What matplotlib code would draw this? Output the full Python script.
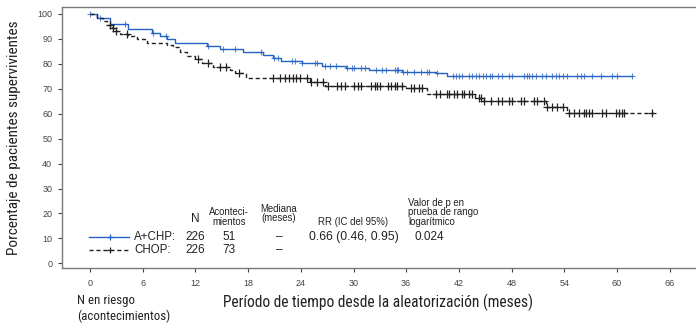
import numpy as np
import matplotlib.pyplot as plt
from matplotlib import font_manager

# ---------------------------------------------------------------
# Datos
# ---------------------------------------------------------------
# A+CHP: tiempos de evento (meses) y supervivencia (%)
t_achp = [0, 0.8, 2.3, 4.3, 7.0, 8.0, 8.75, 9.7, 13.3, 14.8, 17.4, 19.7, 20.8,
          21.8, 24.1, 26.4, 29.2, 31.8, 35.5, 39.4, 40.6, 61.7]
s_achp = [100, 98.5, 95.9, 94.0, 92.4, 91.0, 89.8, 88.4, 87.1, 85.8, 84.6, 83.5,
          82.5, 81.1, 80.5, 79.0, 78.3, 77.5, 76.8, 76.2, 75.3, 75.3]
c_achp = [0, 1.1, 4.0, 7.2, 8.7, 13.4, 15.1, 16.5, 19.5, 21.0, 21.4, 23.0, 23.3,
          24.1, 25.6, 25.9, 26.7, 27.3, 28.0, 29.3, 29.8, 30.1, 30.9, 31.3, 32.6,
          33.2, 33.7, 34.7, 34.9, 35.1, 35.6, 36.1, 36.9, 37.7, 38.4, 38.6, 39.5,
          41.3, 41.7, 42.0, 42.4, 43.2, 43.5, 44.0, 44.3, 44.7, 45.1, 45.5, 45.8,
          46.5, 46.9, 47.7, 48.1, 49.4, 49.7, 50.0, 50.3, 50.8, 51.5, 51.9, 52.6,
          53.1, 53.4, 53.8, 54.3, 55.5, 55.9, 56.3, 57.2, 58.2, 59.4, 60.0, 61.7]

# CHOP
t_chop = [0, 0.8, 1.5, 1.9, 2.5, 2.8, 3.4, 4.3, 5.3, 6.5, 8.75, 9.4, 10.2, 11.0,
          11.9, 12.8, 14.0, 15.9, 16.5, 17.8, 25.0, 26.7, 36.0, 38.4, 43.8, 44.7,
          51.9, 54.3, 64.2]
s_chop = [100, 98.5, 97.2, 95.5, 94.2, 93.0, 92.0, 91.2, 89.9, 88.5, 87.7, 86.8,
          84.8, 83.2, 81.9, 80.5, 78.8, 77.5, 76.4, 74.2, 72.8, 71.1, 70.2, 67.9,
          66.4, 65.2, 62.8, 60.2, 60.2]
c_chop = [2.3, 2.6, 3.0, 4.2, 12.3, 13.4, 14.8, 15.5, 17.0, 20.8, 21.6, 22.2, 22.6,
          23.1, 23.5, 23.9, 24.7, 25.2, 25.8, 26.5, 27.1, 28.1, 28.6, 29.0, 30.1,
          30.5, 30.9, 32.0, 32.4, 32.7, 33.0, 33.9, 34.3, 34.7, 35.0, 35.5, 36.6,
          36.9, 37.5, 37.8, 39.4, 39.8, 40.6, 40.9, 41.5, 41.8, 42.3, 42.6, 43.2,
          43.5, 44.3, 44.5, 44.9, 45.7, 46.4, 46.9, 47.7, 48.1, 49.1, 49.4, 50.6,
          50.9, 51.7, 52.0, 52.6, 53.2, 53.8, 54.5, 55.1, 55.7, 56.3, 56.5, 56.8,
          57.2, 58.3, 58.8, 59.9, 60.2, 60.6, 60.8, 64.0]

x_ticks = [0, 6, 12, 18, 24, 30, 36, 42, 48, 54, 60, 66]
y_ticks = [0, 10, 20, 30, 40, 50, 60, 70, 80, 90, 100]

# tabla
grupos = ['A+CHP:', 'CHOP:']
n_total = ['226', '226']
eventos = ['51', '73']
mediana = ['–', '–']
rr_txt = '0.66 (0.46, 0.95)'
p_txt = '0.024'

# ---------------------------------------------------------------
# Fuentes
# ---------------------------------------------------------------
nombres = {f.name for f in font_manager.fontManager.ttflist}
cond = dict(family='DejaVu Sans', fontstretch='condensed')
for cand in ['Roboto Condensed', 'Liberation Sans Narrow', 'Open Sans Condensed']:
    if cand in nombres:
        cond = dict(family=cand)
        break
plt.rcParams['font.family'] = ['Liberation Sans', 'DejaVu Sans']

azul = '#2462c4'
negro = '#222222'
gris = '#7a7a7a'
txt = '#222222'

fig = plt.figure(figsize=(6.96, 3.25), dpi=100)
ax = fig.add_axes([0.089, 0.175, 0.911, 0.803])


def valor_en(t, ts, ss):
    i = np.searchsorted(ts, t, side='right') - 1
    return np.asarray(ss)[np.clip(i, 0, len(ss) - 1)]


ax.step(t_achp, s_achp, where='post', color=azul, lw=1.0)
ax.plot(c_achp, valor_en(c_achp, t_achp, s_achp), '+', color=azul, ms=5,
        mew=0.8, alpha=0.75)
ax.step(t_chop, s_chop, where='post', color=negro, lw=1.0, ls=(0, (3, 2)))
ax.plot(c_chop, valor_en(c_chop, t_chop, s_chop), '+', color=negro, ms=5.5,
        mew=0.9)

ax.set_xlim(-3.2, 69)
ax.set_ylim(-1.9, 102.7)
ax.set_xticks(x_ticks)
ax.set_yticks(y_ticks)
ax.tick_params(labelsize=6.5, colors='#444444', length=3, width=0.8, pad=4)
ax.tick_params(axis='x', pad=5)
for lado in ['top', 'left', 'bottom']:
    ax.spines[lado].set_color(gris)
    ax.spines[lado].set_linewidth(1.0)
ax.spines['right'].set_visible(False)

ax.set_ylabel('Porcentaje de pacientes supervivientes', fontsize=11,
              color=txt, va='center', **cond)
ax.yaxis.set_label_coords(-0.075, 0.5)
ax.set_xlabel('Período de tiempo desde la aleatorización (meses)', fontsize=11.2,
              color=txt, va='center', **cond)
ax.xaxis.set_label_coords(0.498, -0.13)
fig.text(0.111, 0.05, 'N en riesgo\n(acontecimientos)', fontsize=9.3,
         color=txt, ha='left', va='center', linespacing=1.25, **cond)

# leyenda / tabla dentro del gráfico
fila_y = [10.7, 5.2]
estilos = [dict(color=azul, ls='-'), dict(color=negro, ls=(0, (3, 2)))]
for yy, est, g, n, e, m in zip(fila_y, estilos, grupos, n_total, eventos, mediana):
    ax.plot([-0.1, 4.4], [yy, yy], lw=1.0, **est)
    ax.plot([2.3], [yy], '+', color=est['color'], ms=5, mew=0.9)
    ax.text(5.0, yy, g, fontsize=8.3, color=txt, va='center', ha='left')
    ax.text(12.0, yy, n, fontsize=8.5, color=txt, va='center', ha='center')
    ax.text(15.8, yy, e, fontsize=8.5, color=txt, va='center', ha='center')
    ax.text(21.5, yy, m, fontsize=8.5, color=txt, va='center', ha='center')
ax.text(30.0, fila_y[0], rr_txt, fontsize=8.8, color=txt, va='center', ha='center')
ax.text(38.6, fila_y[0], p_txt, fontsize=8.5, color=txt, va='center', ha='center')

hs = 6.9
ax.text(12.0, 17.6, 'N', fontsize=8.5, color=txt, va='center', ha='center')
ax.text(15.8, 18.5, 'Aconteci-\nmientos', fontsize=hs, color=txt,
        va='center', ha='center', linespacing=0.95)
ax.text(21.5, 20.0, 'Mediana\n(meses)', fontsize=hs, color=txt,
        va='center', ha='center', linespacing=0.95)
ax.text(30.0, 16.7, 'RR (IC del 95%)', fontsize=hs, color=txt,
        va='center', ha='center')
ax.text(36.2, 20.5, 'Valor de p en\nprueba de rango\nlogarítmico', fontsize=hs,
        color=txt, va='center', ha='left', linespacing=0.95)

fig.savefig('out.png', dpi=100)
